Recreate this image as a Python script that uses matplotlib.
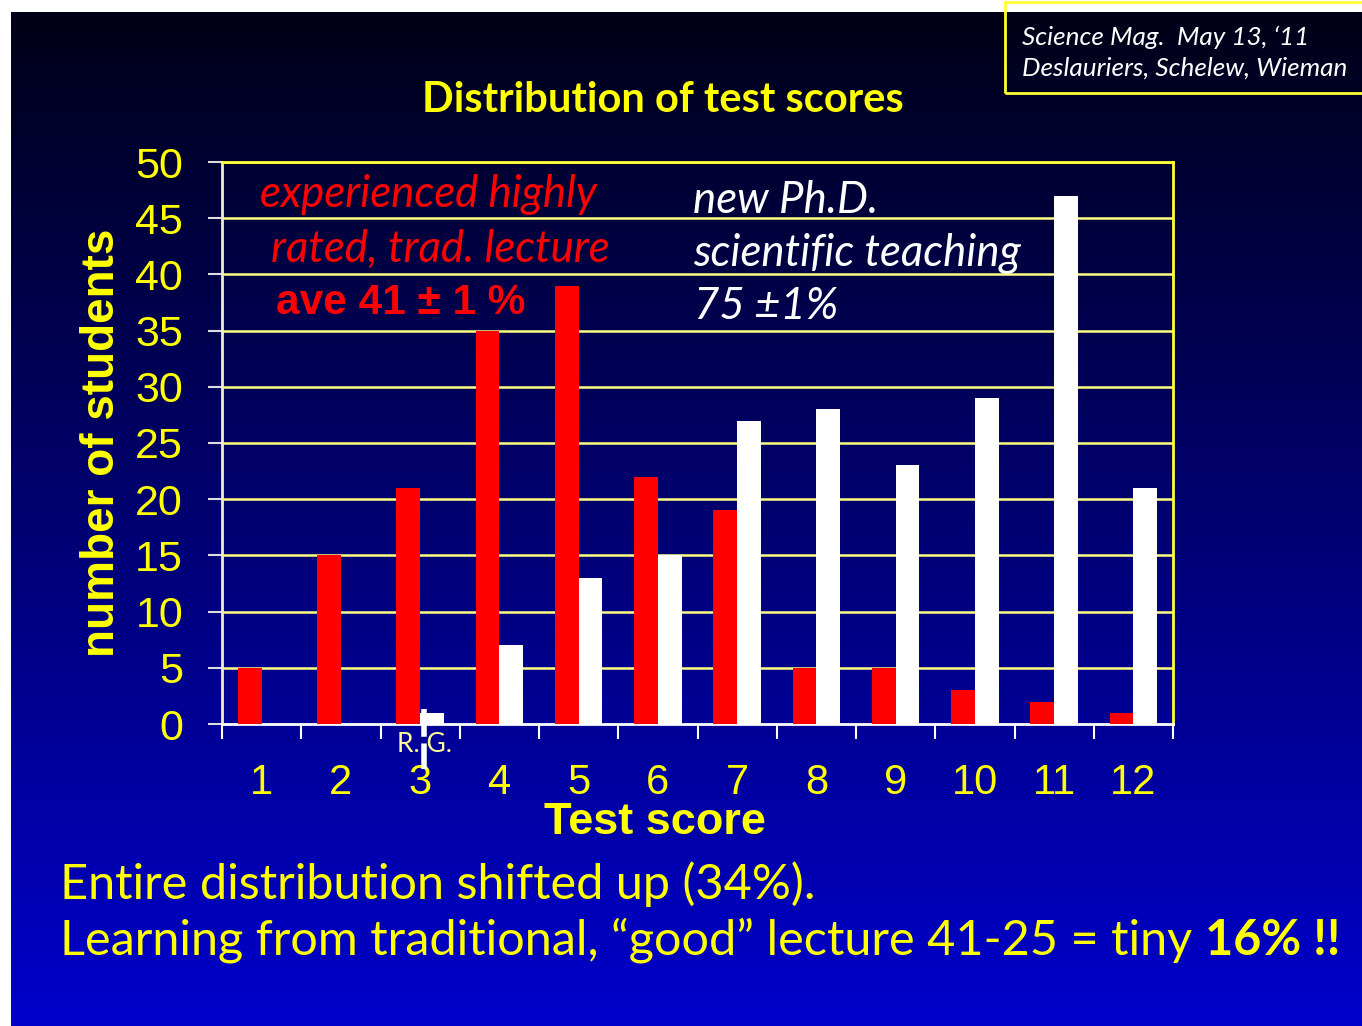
import numpy as np
import matplotlib
matplotlib.use('Agg')
import matplotlib.pyplot as plt
from matplotlib.patches import Rectangle

# data
scores = list(range(1, 13))
traditional = [5, 15, 21, 35, 39, 22, 19, 5, 5, 3, 2, 1]
scientific = [0, 0, 1, 7, 13, 15, 27, 28, 23, 29, 47, 21]
y_ticks = [0, 5, 10, 15, 20, 25, 30, 35, 40, 45, 50]
rg_score = 3.05

W, H = 1362, 1026
fig = plt.figure(figsize=(W / 100, H / 100), dpi=100)
fig.patch.set_facecolor('white')

def fx(px):
    return px / W

def fy(py):
    return 1 - py / H

# gradient background (dark navy at top -> blue at bottom)
bg = fig.add_axes([fx(11), 0, 1 - fx(11), fy(12)], zorder=-10)
t = np.linspace(0, 1, 256)[:, None]
top = np.array([0.0, 0.0, 0.09])
bot = np.array([0.0, 0.0, 0.80])
grad = top + (bot - top) * t[..., None]
grad = np.repeat(grad, 2, axis=1)
bg.imshow(grad, aspect='auto', extent=[0, 1, 1, 0])
bg.set_axis_off()

# citation box
fig.patches.append(Rectangle((fx(1005), fy(93)), 0.3, fy(12) - fy(93) + 0.01,
                             transform=fig.transFigure, fill=False,
                             edgecolor='#FFFF33', lw=2, zorder=5))
fig.text(fx(1022), fy(37), "Science Mag.  May 13, \u201811", color='white',
         fontsize=18.8, family='Lato', style='italic', va='center', ha='left')
fig.text(fx(1022), fy(68), "Deslauriers, Schelew, Wieman", color='white',
         fontsize=18.8, family='Lato', style='italic', va='center', ha='left')

fig.text(fx(663), fy(100), "Distribution of test scores", color='#FFFF00',
         fontsize=30, family='Lato', weight='bold', ha='center', va='center')

ax = fig.add_axes([fx(222), fy(724), fx(1173) - fx(222), fy(162) - fy(724)])
ax.set_facecolor('none')

x = np.array(scores)
w = 0.30
ax.bar(x - w / 2, traditional, width=w, color='#FF0000', zorder=3)
ax.bar(x + w / 2, scientific, width=w, color='white', zorder=3)

ax.set_xlim(0.5, 12.5)
ax.set_ylim(0, 50)
ax.set_yticks(y_ticks)
for yv in y_ticks[1:]:
    ax.axhline(yv, color='#FFFF80', lw=1.8, zorder=1)

for s in ['top', 'right']:
    ax.spines[s].set_color('#FFFF33')
    ax.spines[s].set_linewidth(2)
ax.spines['left'].set_color('#EEEECC')
ax.spines['left'].set_linewidth(2)
ax.spines['bottom'].set_color('white')
ax.spines['bottom'].set_linewidth(2)

ax.tick_params(axis='y', colors='#DDDDDD', length=10, width=1.5,
               labelcolor='#FFFF00', labelsize=31, pad=18)
for lab in ax.get_yticklabels():
    lab.set_family('Liberation Sans')

ax.set_xticks(scores)
ax.set_xticklabels([str(s) for s in scores])
ax.set_xticks(np.arange(0.5, 13, 1), minor=True)
ax.tick_params(axis='x', which='major', length=0, labelcolor='#FFFF00',
               labelsize=30, pad=28)
ax.tick_params(axis='x', which='minor', length=11, width=1.5, color='white')
for lab in ax.get_xticklabels():
    lab.set_family('Liberation Sans')

# R.G. marker
ax.plot([rg_score, rg_score], [1.3, -4.0], color='white', lw=4,
        dashes=(5, 1.2), clip_on=False, zorder=6)
ax.text(rg_score, -1.8, "R. G.", color='#FFFF99', fontsize=19,
        family='Lato', ha='center', va='center', zorder=5)

# annotations
ax.text(3.11, 47.1, "experienced highly", color='#FF0000', fontsize=31.5,
        family='Lato', style='italic', ha='center', va='center')
ax.text(3.25, 42.2, "rated, trad. lecture", color='#FF0000', fontsize=31.5,
        family='Lato', style='italic', ha='center', va='center')
ax.text(2.76, 37.5, "ave 41 \u00b1 1 %", color='#FF0000', fontsize=30.5,
        family='Liberation Sans', weight='bold', ha='center', va='center')
ax.text(6.44, 46.6, "new Ph.D.", color='white', fontsize=31.5,
        family='Lato', style='italic', ha='left', va='center')
ax.text(6.44, 41.9, "scientific teaching", color='white', fontsize=31.5,
        family='Lato', style='italic', ha='left', va='center')
ax.text(6.46, 37.1, "75 \u00b11%", color='white', fontsize=31.5,
        family='Lato', style='italic', ha='left', va='center')

fig.text(fx(102), fy(443), "number of students", color='#FFFF00', fontsize=33,
         family='Liberation Sans', weight='bold', rotation=90,
         ha='center', va='center')
fig.text(fx(655), fy(822), "Test score", color='#FFFF00', fontsize=32.5,
         family='Liberation Sans', weight='bold', ha='center', va='center')

# bottom notes
fig.text(fx(60), fy(884), "Entire distribution shifted up (34%).",
         color='#FFFF00', fontsize=35, family='Lato', ha='left', va='center')
t2 = fig.text(fx(60), fy(940),
              "Learning from traditional, \u201cgood\u201d lecture 41-25 = tiny ",
              color='#FFFF00', fontsize=35, family='Lato', ha='left', va='center')
ax.annotate("16% !!", xy=(1, 0), xycoords=t2, color='#FFFF00', fontsize=35,
            family='Lato', weight='bold', ha='left', va='bottom',
            annotation_clip=False)

fig.savefig('out.png', dpi=100, facecolor=fig.get_facecolor())
